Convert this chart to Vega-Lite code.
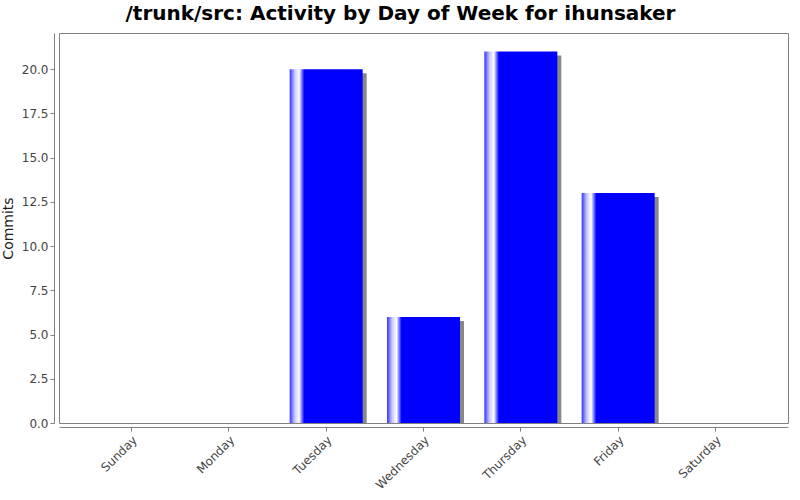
{
  "$schema": "https://vega.github.io/schema/vega-lite/v6.json",
  "autosize": "none",
  "width": 729,
  "height": 390,
  "padding": {"left": 59, "top": 33, "right": 12, "bottom": 77},
  "background": "white",
  "title": {
    "text": "/trunk/src: Activity by Day of Week for ihunsaker",
    "font": "DejaVu Sans",
    "fontSize": 20,
    "fontWeight": "bold",
    "color": "black",
    "anchor": "middle",
    "dx": -23,
    "offset": 9
  },
  "config": {
    "view": {"stroke": "#808080", "strokeWidth": 1},
    "axis": {
      "labelFont": "DejaVu Sans",
      "labelFontSize": 12,
      "labelColor": "#444444",
      "titleFont": "DejaVu Sans",
      "titleFontSize": 14,
      "titleFontWeight": "normal",
      "titleColor": "#222222",
      "domainColor": "#808080",
      "tickColor": "#808080",
      "tickSize": 4,
      "grid": false
    }
  },
  "data": {
    "values": [
      {"day": "Sunday", "commits": 0},
      {"day": "Monday", "commits": 0},
      {"day": "Tuesday", "commits": 20},
      {"day": "Wednesday", "commits": 6},
      {"day": "Thursday", "commits": 21},
      {"day": "Friday", "commits": 13},
      {"day": "Saturday", "commits": 0}
    ]
  },
  "encoding": {
    "x": {
      "field": "day",
      "type": "nominal",
      "sort": null,
      "title": null,
      "scale": {"paddingInner": 0.25, "paddingOuter": 0.37},
      "axis": {"labelAngle": -45, "offset": 4, "labelPadding": 3}
    },
    "y": {
      "field": "commits",
      "type": "quantitative",
      "title": "Commits",
      "scale": {"domain": [0, 22.05], "nice": false, "zero": true},
      "axis": {
        "values": [0, 2.5, 5, 7.5, 10, 12.5, 15, 17.5, 20],
        "format": ".1f",
        "offset": 5,
        "titlePadding": 6
      }
    }
  },
  "layer": [
    {
      "mark": {"type": "bar", "color": "#888888", "xOffset": 4, "yOffset": 4, "clip": true}
    },
    {
      "mark": {
        "type": "bar",
        "clip": true,
        "color": {
          "gradient": "linear",
          "x1": 0, "y1": 0, "x2": 1, "y2": 0,
          "stops": [
            {"offset": 0, "color": "#3333ff"},
            {"offset": 0.07, "color": "#c8c8ff"},
            {"offset": 0.13, "color": "#ffffff"},
            {"offset": 0.2, "color": "#0000ff"},
            {"offset": 1, "color": "#0000ff"}
          ]
        }
      }
    }
  ]
}
